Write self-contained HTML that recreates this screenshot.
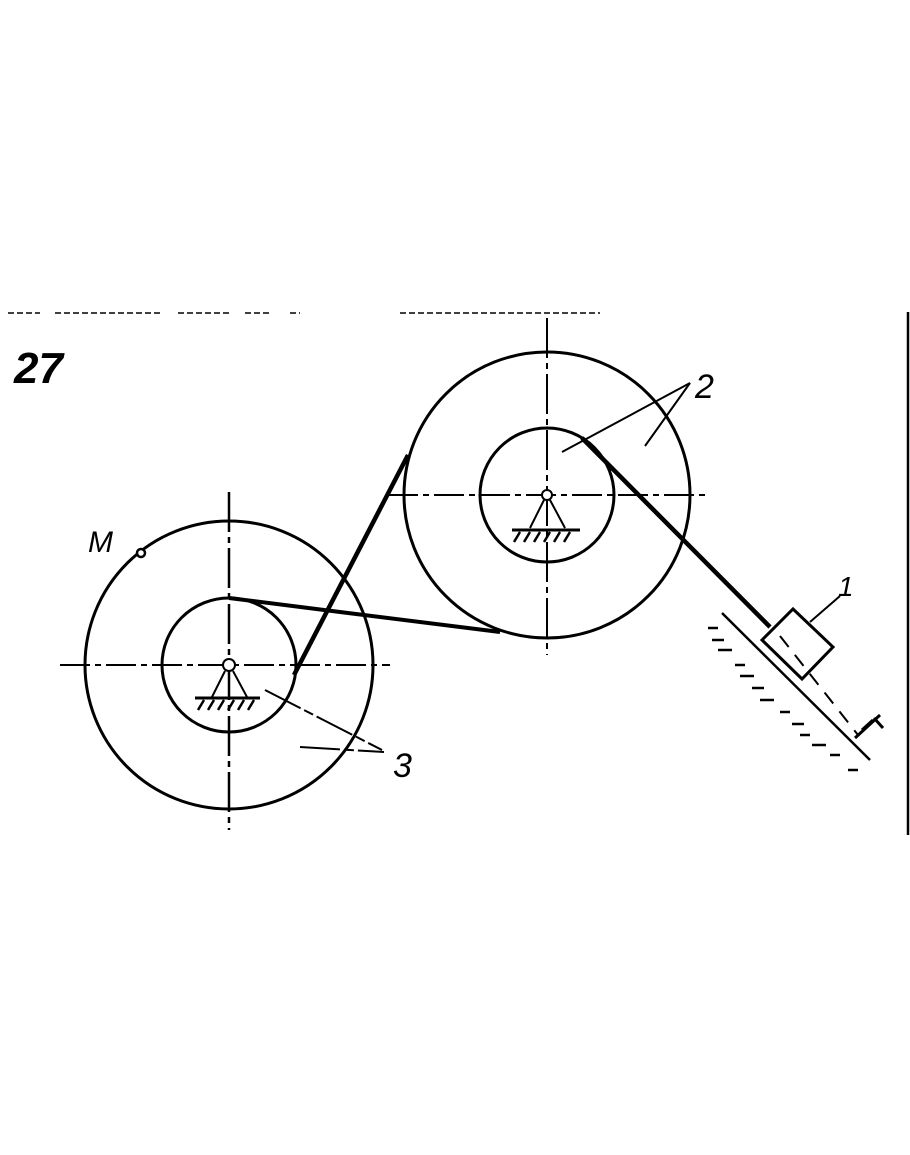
<!DOCTYPE html>
<html><head><meta charset="utf-8"><style>
html,body{margin:0;padding:0;background:#fff;}
svg{display:block;}
text{font-family:"Liberation Sans",sans-serif;font-style:italic;fill:#000;}
</style></head><body>
<svg width="910" height="1155" viewBox="0 0 910 1155" xmlns="http://www.w3.org/2000/svg">
<g stroke="#000" fill="none">
<path d="M8 313 H40 M55 313 H160 M178 313 H230 M245 313 H270 M290 313 H300 M400 313 H600" stroke-width="1.5" stroke-dasharray="6 3"/>
<line x1="908" y1="312" x2="908" y2="835" stroke-width="2.5"/>
<!-- left wheel -->
<circle cx="229" cy="665" r="144" stroke-width="3"/>
<circle cx="229" cy="665" r="67" stroke-width="3"/>
<line x1="60" y1="665" x2="390" y2="665" stroke-width="2" stroke-dasharray="30 5 6 5"/>
<line x1="229" y1="492" x2="229" y2="830" stroke-width="2.5" stroke-dasharray="40 5 6 5"/>
<circle cx="229" cy="665" r="6" fill="#fff" stroke-width="2"/>
<path d="M225 671 L212 697 M233 671 L247 697" stroke-width="2"/>
<line x1="195" y1="698" x2="260" y2="698" stroke-width="3"/>
<path d="M198 710 l6 -10 M208 710 l6 -10 M218 710 l6 -10 M228 710 l6 -10 M238 710 l6 -10 M248 710 l6 -10" stroke-width="2.5"/>
<!-- right wheel -->
<circle cx="547" cy="495" r="143" stroke-width="3"/>
<circle cx="547" cy="495" r="67" stroke-width="3"/>
<line x1="388" y1="495" x2="708" y2="495" stroke-width="2" stroke-dasharray="30 5 6 5"/>
<line x1="547" y1="318" x2="547" y2="655" stroke-width="2" stroke-dasharray="40 5 6 5"/>
<circle cx="547" cy="495" r="5" fill="#fff" stroke-width="2"/>
<path d="M544 500 L530 528 M550 500 L565 528" stroke-width="2"/>
<line x1="512" y1="530" x2="580" y2="530" stroke-width="3"/>
<path d="M514 542 l6 -10 M524 542 l6 -10 M534 542 l6 -10 M544 542 l6 -10 M554 542 l6 -10 M564 542 l6 -10" stroke-width="2.5"/>
<!-- belts -->
<path d="M229 598 L340 612 L500 632" stroke-width="4"/>
<path d="M294 675 L408 455" stroke-width="4.5"/>
<!-- cable -->
<path d="M582 438 L770 627" stroke-width="4.5"/>
<!-- incline -->
<line x1="722" y1="613" x2="870" y2="760" stroke-width="2.5"/>
<path d="M708 628 h10 M712 640 h12 M718 650 h14 M735 665 h10 M740 676 h14 M752 688 h12 M760 700 h14 M780 712 h10 M792 724 h12 M800 735 h10 M812 745 h14 M830 755 h10 M848 770 h10" stroke-width="2.5"/>
<!-- block -->
<polygon points="762,640 793,609 833,647 802,679" stroke-width="3" fill="#fff"/>
<line x1="780" y1="636" x2="858" y2="735" stroke-width="2" stroke-dasharray="14 10"/>
<path d="M862 730 L873 720 M855 738 L880 715 M874 718 L883 728" stroke-width="3"/>
<line x1="810" y1="622" x2="840" y2="596" stroke-width="2"/>
<path d="M562 452 L690 383 L645 446" stroke-width="2"/>
<path d="M265 690 L382 750 M300 747 L384 752" stroke-width="2" stroke-dasharray="40 4 10 4"/>
<circle cx="141" cy="553" r="4" stroke-width="2.5" fill="#fff"/>
</g>
<text x="14" y="383" font-size="44" font-weight="bold">27</text>
<text x="88" y="552" font-size="30">M</text>
<text x="695" y="398" font-size="34">2</text>
<text x="838" y="596" font-size="28">1</text>
<text x="393" y="777" font-size="34">3</text>
</svg>
</body></html>
